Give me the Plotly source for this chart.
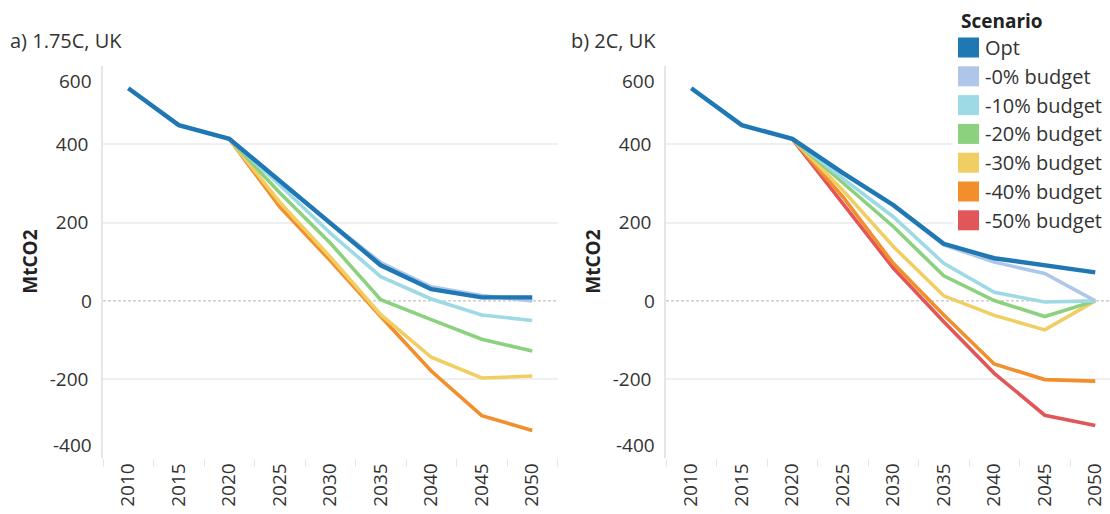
import plotly.graph_objects as go

# Emissions pathways (MtCO2) for the UK under two temperature targets
years = ["2010", "2015", "2020", "2025", "2030", "2035", "2040", "2045", "2050"]

scenarios = ["Opt", "-0% budget", "-10% budget", "-20% budget",
             "-30% budget", "-40% budget", "-50% budget"]
colors = ["#1f77b4", "#aec7e8", "#9edae5", "#8cd17d",
          "#f1ce63", "#f28e2b", "#e15759"]

# a) 1.75C target
uk_175_opt = [543, 449, 414, 307, 197, 91, 30, 9, 9]
uk_175_b0 = [None, None, 414, 308, 200, 98, 36, 14, 0]
uk_175_b10 = [None, None, 414, 296, 173, 62, 5, -36, -50]
uk_175_b20 = [None, None, 414, 276, 148, 3, -48, -98, -128]
uk_175_b30 = [None, None, 414, 252, 112, -35, -144, -197, -192]
uk_175_b40 = [None, None, 414, 240, 103, -40, -179, -293, -331]
uk_175_b50 = [None] * 9

# b) 2C target
uk_2_opt = [543, 449, 414, 327, 245, 146, 109, 92, 73]
uk_2_b0 = [None, None, 414, 326, 243, 143, 99, 70, 0]
uk_2_b10 = [None, None, 414, 313, 215, 96, 22, -3, 0]
uk_2_b20 = [None, None, 414, 301, 190, 64, 1, -40, 0]
uk_2_b30 = [None, None, 414, 283, 139, 13, -37, -74, 0]
uk_2_b40 = [None, None, 414, 266, 96, -36, -161, -201, -205]
uk_2_b50 = [None, None, 414, 250, 84, -53, -185, -292, -318]

panel_a = [uk_175_opt, uk_175_b0, uk_175_b10, uk_175_b20, uk_175_b30, uk_175_b40, uk_175_b50]
panel_b = [uk_2_opt, uk_2_b0, uk_2_b10, uk_2_b20, uk_2_b30, uk_2_b40, uk_2_b50]

y_ticks = [600, 400, 200, -200, -400]
y_tick_text = ["", "400", "200", "-200", ""]

FONT = "'Open Sans', Lato, sans-serif"
TXT = "#333333"
GRID = "#efefef"

W, H = 1110, 514
top_px, bot_px = 66, 457.5
y_dom = [1 - bot_px / H, 1 - top_px / H]
xa_dom = [103 / W, 557.5 / W]
xb_dom = [666 / W, 1.0]
band = 50.5  # pixels per year category

fig = go.Figure()

# draw the deepest cuts first so the optimal path sits on top
for panel, (xr, yr) in zip([panel_a, panel_b], [("x", "y"), ("x2", "y2")]):
    for i in reversed(range(len(scenarios))):
        vals = panel[i]
        if all(v is None for v in vals):
            continue
        fig.add_trace(go.Scatter(
            x=years, y=vals, xaxis=xr, yaxis=yr, mode="lines",
            name=scenarios[i], showlegend=False,
            line=dict(color=colors[i], width=4.4 if i == 0 else 3.6),
            connectgaps=False, hoverinfo="skip",
        ))

xaxis_common = dict(
    type="category", categoryorder="array", categoryarray=years,
    showgrid=False, zeroline=False, showline=False,
    tickson="boundaries", ticks="outside", ticklen=8, tickcolor="#e6e6e6",
    tickwidth=1, tickangle=-90, ticklabelstandoff=1,
    tickfont=dict(family=FONT, size=19, color=TXT),
)
yaxis_common = dict(
    range=[-400, 600], tickvals=y_ticks, ticktext=y_tick_text,
    showgrid=True, gridcolor=GRID, gridwidth=1.5, zeroline=False,
    showline=True, linecolor="#e6e6e6", linewidth=1.5,
    ticks="", ticklabelstandoff=9,
    tickfont=dict(family=FONT, size=19, color=TXT),
)

fig.update_layout(
    width=W, height=H,
    margin=dict(l=0, r=0, t=0, b=0),
    paper_bgcolor="white", plot_bgcolor="white",
    showlegend=False,
    xaxis=dict(domain=xa_dom, range=[-0.5, 8.5], anchor="y", **xaxis_common),
    xaxis2=dict(domain=xb_dom, range=[-0.5, -0.5 + (W - 666) / band], anchor="y2", **xaxis_common),
    yaxis=dict(domain=y_dom, anchor="x", **yaxis_common),
    yaxis2=dict(domain=y_dom, anchor="x2", **yaxis_common),
)

shapes = []
annotations = []
for xd, xr, yr in [(xa_dom, "x", "y"), (xb_dom, "x2", "y2")]:
    # dashed reference line at zero
    shapes.append(dict(type="line", xref=f"{xr} domain", yref=yr, x0=0, x1=1, y0=0, y1=0,
                       line=dict(color="#b4b4b4", width=1, dash="3px,2px"), layer="below"))
    # edge and zero labels for the value axis
    for val, shift in [(600, -15), (0, 0), (-400, 13)]:
        annotations.append(dict(text=str(val), xref="paper", yref=yr, x=xd[0], y=val,
                                xanchor="right", yanchor="middle", xshift=-9, yshift=shift,
                                showarrow=False, font=dict(family=FONT, size=19, color=TXT)))
    # value axis title
    annotations.append(dict(text="<b>MtCO2</b>", xref="paper", yref="paper",
                            x=xd[0] - 73 / W, y=sum(y_dom) / 2, textangle=-90,
                            xanchor="center", yanchor="middle", showarrow=False,
                            font=dict(family=FONT, size=19, color="#222222")))

# panel titles
annotations.append(dict(text="a) 1.75C, UK", xref="paper", yref="paper", x=8 / W, y=1 - 41 / H,
                        xanchor="left", yanchor="middle", showarrow=False,
                        font=dict(family=FONT, size=20, color=TXT)))
annotations.append(dict(text="b) 2C, UK", xref="paper", yref="paper", x=569 / W, y=1 - 41 / H,
                        xanchor="left", yanchor="middle", showarrow=False,
                        font=dict(family=FONT, size=20, color=TXT)))

# colour legend: white panel over the right-hand grid, then swatches and names
shapes.append(dict(type="rect", xref="paper", yref="paper",
                   x0=953 / W, x1=1.0, y0=1 - 236 / H, y1=1.0,
                   fillcolor="white", line=dict(width=0), layer="above"))
annotations.append(dict(text="<b>Scenario</b>", xref="paper", yref="paper", x=959 / W, y=1 - 21 / H,
                        xanchor="left", yanchor="middle", showarrow=False,
                        font=dict(family=FONT, size=19, color="#222222")))
for i, (name, col) in enumerate(zip(scenarios, colors)):
    yc = 47.5 + i * 28.8
    shapes.append(dict(type="rect", xref="paper", yref="paper",
                       x0=958 / W, x1=979 / W, y0=1 - (yc + 10) / H, y1=1 - (yc - 10) / H,
                       fillcolor=col, line=dict(width=0), layer="above"))
    annotations.append(dict(text=name, xref="paper", yref="paper", x=983 / W, y=1 - yc / H,
                            xanchor="left", yanchor="middle", showarrow=False,
                            font=dict(family=FONT, size=20, color=TXT)))

fig.update_layout(shapes=shapes, annotations=annotations)
fig.write_html("out.html")
